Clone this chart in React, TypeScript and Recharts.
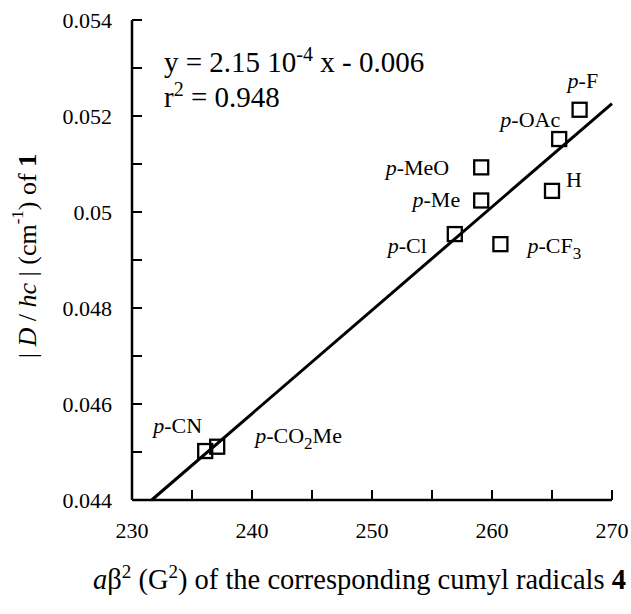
import React from 'react';
import { ScatterChart, Scatter, XAxis, YAxis, ReferenceLine } from 'recharts';

// ---- data ----
const names = ['p-F', 'p-OAc', 'p-MeO', 'H', 'p-Me', 'p-Cl', 'p-CF3', 'p-CN', 'p-CO2Me'];
const aBeta2 = [267.3, 265.6, 259.1, 265.0, 259.1, 256.9, 260.7, 236.1, 237.1];
const dOverHc = [0.05213, 0.05152, 0.05093, 0.05044, 0.05024, 0.04954, 0.04933, 0.04502, 0.04511];
const fitX = [231.64, 270];
const fitY = [0.044, 0.05226];
const xTicks = [230, 235, 240, 245, 250, 255, 260, 265, 270];
const xTickLabels = ['230', '', '240', '', '250', '', '260', '', '270'];
const yTicks = [0.044, 0.045, 0.046, 0.047, 0.048, 0.049, 0.05, 0.051, 0.052, 0.053, 0.054];
const yTickLabels = ['0.044', '', '0.046', '', '0.048', '', '0.05', '', '0.052', '', '0.054'];

const points = names.map((n, i) => ({ name: n, x: aBeta2[i], y: dOverHc[i] }));

// label placement relative to marker centre (style, not data)
const labelPlace: Record<string, [number, number, 'start' | 'end']> = {
  'p-F': [-12, -22, 'start'],
  'p-OAc': [1, -12, 'end'],
  'p-MeO': [-32, 8, 'end'],
  H: [14, -4, 'start'],
  'p-Me': [-21, 7, 'end'],
  'p-Cl': [-28, 19, 'end'],
  'p-CF3': [27, 9, 'start'],
  'p-CN': [-3, -18, 'end'],
  'p-CO2Me': [38, -4, 'start'],
};

const FONT = "'Liberation Serif', 'Times New Roman', Times, serif";

function nameSpans(name: string) {
  const out: React.ReactNode[] = [];
  let rest = name;
  if (name.startsWith('p-')) {
    out.push(<tspan key="p" fontStyle="italic">p</tspan>);
    rest = name.slice(1);
  }
  const m = rest.match(/^(.*?)(\d)(.*)$/);
  if (m) {
    out.push(<tspan key="a">{m[1]}</tspan>);
    out.push(<tspan key="b" dy={6} fontSize={17}>{m[2]}</tspan>);
    out.push(<tspan key="c" dy={-6}>{m[3]}</tspan>);
  } else {
    out.push(<tspan key="a">{rest}</tspan>);
  }
  return out;
}

const SquareWithLabel = (props: any) => {
  const { cx, cy, payload } = props;
  if (cx == null || cy == null) return null;
  const place = labelPlace[payload.name] || [10, 0, 'start'];
  return (
    <g>
      <rect x={cx - 7} y={cy - 7} width={14} height={14} fill="none" stroke="#000" strokeWidth={2.3} />
      <text
        x={cx + place[0]}
        y={cy + place[1]}
        textAnchor={place[2]}
        style={{ fontFamily: FONT }}
        fontSize={22}
        fill="#000"
      >
        {nameSpans(payload.name)}
      </text>
    </g>
  );
};

const tickStyle = { fontSize: 22, fill: '#000', fontFamily: FONT };
const lineStyle = { stroke: '#000', strokeWidth: 2.5 };
const tickLineStyle = { stroke: '#000', strokeWidth: 2 };

export default function App() {
  return (
    <div
      style={{
        position: 'fixed',
        left: 0,
        top: 0,
        width: 631,
        height: 614,
        background: '#fff',
        fontFamily: FONT,
      }}
    >
      <ScatterChart
        width={631}
        height={614}
        margin={{ top: 20, right: 19, bottom: 74, left: 72 }}
        style={{ fontFamily: FONT }}
      >
        <XAxis
          xAxisId="b"
          dataKey="x"
          type="number"
          domain={[230, 270]}
          ticks={xTicks}
          tickFormatter={(v: number, i: number) => xTickLabels[i] ?? ''}
          interval={0}
          height={40}
          tickSize={-10}
          tickMargin={32}
          tick={tickStyle}
          axisLine={lineStyle}
          tickLine={tickLineStyle}
          allowDataOverflow
        />
        <XAxis
          xAxisId="t"
          orientation="top"
          type="number"
          domain={[230, 270]}
          ticks={xTicks}
          interval={0}
          height={0}
          tickSize={-10}
          tick={false}
          axisLine={lineStyle}
          tickLine={tickLineStyle}
          allowDataOverflow
        />
        <YAxis
          yAxisId="l"
          dataKey="y"
          type="number"
          domain={[0.044, 0.054]}
          ticks={yTicks}
          tickFormatter={(v: number, i: number) => yTickLabels[i] ?? ''}
          interval={0}
          width={60}
          tickSize={-10}
          tickMargin={30}
          tick={tickStyle}
          axisLine={lineStyle}
          tickLine={tickLineStyle}
          allowDataOverflow
        />
        <YAxis
          yAxisId="r"
          orientation="right"
          type="number"
          domain={[0.044, 0.054]}
          ticks={yTicks}
          interval={0}
          width={0}
          tickSize={-10}
          tick={false}
          axisLine={lineStyle}
          tickLine={tickLineStyle}
          allowDataOverflow
        />
        <ReferenceLine
          xAxisId="b"
          yAxisId="l"
          segment={[
            { x: fitX[0], y: fitY[0] },
            { x: fitX[1], y: fitY[1] },
          ]}
          stroke="#000"
          strokeWidth={3}
          ifOverflow="visible"
        />
        <Scatter
          xAxisId="b"
          yAxisId="l"
          data={points}
          shape={SquareWithLabel}
          isAnimationActive={false}
        />
        <text x={164} y={72} style={{ fontFamily: FONT }} fontSize={29} fill="#000">
          y = 2.15 10<tspan dy={-11} fontSize={20}>-4</tspan>
          <tspan dy={11}> x - 0.006</tspan>
        </text>
        <text x={164} y={107} style={{ fontFamily: FONT }} fontSize={29} fill="#000">
          r<tspan dy={-11} fontSize={20}>2</tspan>
          <tspan dy={11}> = 0.948</tspan>
        </text>
        <text
          x={27}
          y={256}
          transform="rotate(-90, 27, 256)"
          textAnchor="middle"
          dominantBaseline="central"
          style={{ fontFamily: FONT }}
          fontSize={26}
          fill="#000"
        >
          {'| '}
          <tspan fontStyle="italic">D</tspan>
          {' / '}
          <tspan fontStyle="italic">hc</tspan>
          {' | (cm'}
          <tspan dy={-10} fontSize={17}>-1</tspan>
          <tspan dy={10}>) of </tspan>
          <tspan fontWeight="bold">1</tspan>
        </text>
        <text x={93} y={589} style={{ fontFamily: FONT }} fontSize={28.5} fill="#000">
          <tspan fontStyle="italic">a</tspan>
          {'β'}
          <tspan dy={-11} fontSize={19}>2</tspan>
          <tspan dy={11}> (G</tspan>
          <tspan dy={-11} fontSize={19}>2</tspan>
          <tspan dy={11}>) of the corresponding cumyl radicals </tspan>
          <tspan fontWeight="bold">4</tspan>
        </text>
      </ScatterChart>
    </div>
  );
}
